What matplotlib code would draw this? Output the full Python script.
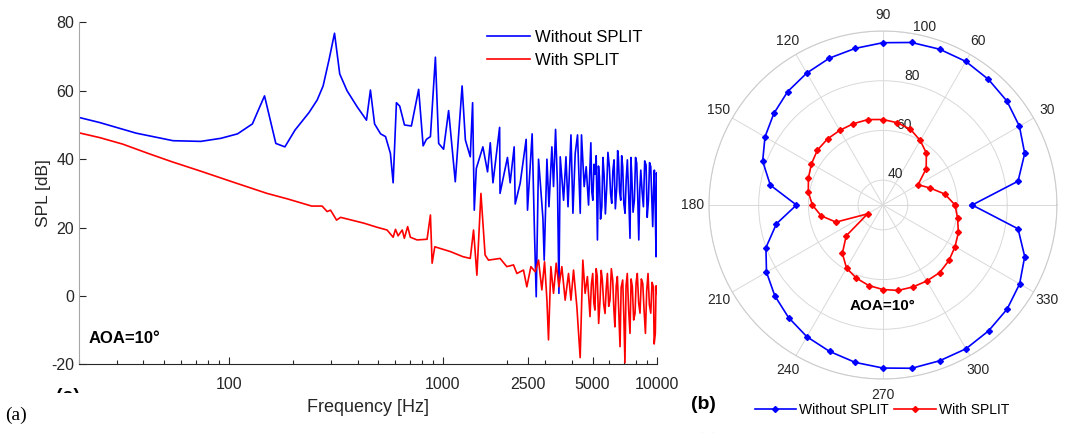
import matplotlib
matplotlib.use("Agg")
import matplotlib.pyplot as plt
import numpy as np
from matplotlib.patches import Rectangle

plt.rcParams['font.family'] = ['Liberation Sans', 'DejaVu Sans']
plt.rcParams['axes.unicode_minus'] = False

# ---- spectrum (a): frequency [Hz] and SPL [dB] ----
blue_f = [20, 25, 37, 55, 74, 92, 110, 129, 147, 166,
          183, 204, 237, 259, 276, 294, 312, 330, 357, 398,
          440, 459, 480, 512, 540, 569, 586, 607, 629, 662,
          713, 771, 809, 838, 875, 923, 956, 1008, 1064, 1143,
          1230, 1274, 1343, 1377, 1402, 1433, 1538, 1617, 1665, 1714,
          1841, 1849, 2003, 2062, 2153, 2177, 2297, 2449, 2485, 2612,
          2679, 2729, 2798, 2933, 2973, 3062, 3129, 3229, 3287, 3360,
          3431, 3483, 3532, 3663, 3757, 3841, 3965, 4050, 4150, 4255,
          4380, 4440, 4570, 4670, 4790, 4910, 4960, 5015, 5080, 5140,
          5200, 5270, 5330, 5385, 5450, 5525, 5590, 5660, 5740, 5825,
          5900, 5990, 6070, 6145, 6220, 6300, 6390, 6490, 6550, 6600,
          6690, 6770, 6840, 6915, 7000, 7090, 7180, 7270, 7380, 7480,
          7550, 7620, 7730, 7840, 7940, 8040, 8130, 8220, 8310, 8400,
          8520, 8640, 8760, 8890, 9000, 9120, 9230, 9350, 9450, 9550,
          9640, 9720, 9810, 9900, 9950, 10000]
blue_db = [52.2, 50.7, 47.6, 45.4, 45.2, 46.1, 47.4, 50.3, 58.5, 44.6,
           43.6, 48.5, 53.6, 57.3, 61.4, 69.0, 76.8, 64.9, 60.0, 55.3,
           51.4, 60.2, 50.3, 47.4, 46.6, 41.7, 33.1, 56.5, 55.5, 50.0,
           49.7, 60.4, 43.9, 45.8, 46.6, 69.8, 44.6, 42.9, 54.2, 33.4,
           61.4, 45.6, 40.7, 56.5, 25.1, 37.3, 43.6, 36.3, 44.8, 33.1,
           49.3, 30.0, 40.5, 33.1, 43.6, 26.9, 33.0, 45.8, 25.1, 47.4,
           18.3, -0.2, 40.0, 22.7, 10.5, 40.0, 26.1, 43.6, 32.0, 48.7,
           32.0, 0.8, 40.7, 28.0, 40.7, 26.1, 47.1, 24.2, 41.7, 47.1,
           24.2, 47.1, 32.0, 37.8, 26.6, 44.8, 30.5, 28.0, 38.5, 35.6,
           41.0, 16.4, 38.0, 34.9, 22.5, 26.1, 40.5, 35.6, 24.0, 32.0,
           42.0, 37.8, 30.0, 27.1, 36.5, 39.8, 25.5, 32.0, 42.5, 40.7,
           30.5, 28.0, 41.0, 37.8, 27.0, 24.2, 34.0, 39.8, 29.0, 16.9,
           40.5, 35.6, 24.5, 28.0, 40.5, 38.8, 29.0, 16.4, 31.0, 36.8,
           30.5, 26.1, 39.5, 38.3, 23.0, 28.0, 39.0, 37.8, 28.5, 20.3,
           31.0, 36.8, 26.0, 11.5, 36.0, 33.0]

red_f = [20, 25, 32, 42, 54, 74, 106, 151, 188, 244,
         273, 288, 299, 319, 333, 364, 428, 493, 549, 586,
         601, 618, 646, 661, 685, 705, 758, 844, 875, 891,
         917, 1084, 1242, 1343, 1391, 1442, 1506, 1575, 1633, 1850,
         1989, 2138, 2217, 2380, 2467, 2577, 2700, 2798, 2899, 2985,
         3062, 3114, 3194, 3287, 3383, 3483, 3594, 3726, 3862, 3964,
         4076, 4224, 4377, 4505, 4617, 4731, 4866, 4940, 5010, 5070,
         5130, 5200, 5260, 5340, 5420, 5490, 5555, 5640, 5720, 5790,
         5865, 5950, 6030, 6120, 6210, 6290, 6360, 6450, 6530, 6620,
         6720, 6800, 6915, 7000, 7085, 7170, 7265, 7370, 7480, 7570,
         7670, 7780, 7895, 7990, 8090, 8210, 8330, 8450, 8580, 8700,
         8830, 8950, 9080, 9210, 9350, 9480, 9620, 9700, 9820, 9900,
         10000]
red_db = [47.7, 46.3, 44.4, 41.7, 39.3, 36.5, 33.2, 30.0, 28.4, 26.3,
          26.3, 24.7, 25.1, 22.2, 23.0, 22.4, 21.3, 20.1, 19.3, 17.2,
          19.5, 17.6, 19.3, 16.9, 20.3, 17.2, 16.4, 16.6, 23.7, 9.6,
          14.4, 13.0, 11.5, 11.0, 19.3, 6.1, 30.0, 12.0, 10.5, 11.0,
          8.6, 9.1, 6.6, 7.6, 2.7, 8.6, 7.1, 10.5, 1.8, 10.0,
          -1.2, -12.8, 8.6, 0.8, 9.6, 2.7, 8.6, -1.2, 6.6, -1.2,
          7.6, -3.1, -18.0, 10.5, 0.8, 5.7, -6.0, 3.5, 6.6, -2.0,
          -4.1, 8.0, 5.7, -8.0, -1.2, 7.5, 4.7, -2.5, -5.1, 2.0,
          6.6, -3.0, -1.2, 8.0, 4.7, -4.0, -9.0, 3.0, 5.7, -3.5,
          -14.8, 2.5, 4.7, -6.0, -19.5, 3.0, 6.6, -4.0, -10.9, 5.0,
          2.7, -7.0, -5.1, 4.0, 6.6, -2.0, -5.0, 5.0, 3.7, -4.0,
          -10.9, 1.5, 6.6, -2.5, -5.0, 4.0, 2.7, -14.0, -10.9, 3.0,
          0.8]

freq_ticks = [100, 1000, 2500, 5000, 10000]
freq_labels = ['100', '1000', '2500', '5000', '10000']
spl_ticks = [-20, 0, 20, 40, 60, 80]

# ---- directivity (b): SPL [dB] every 10 degrees ----
angles_deg = list(range(0, 360, 10))
blue_r = [65.9, 85.2, 90.7, 93.4, 95.1, 96.0, 96.7, 96.7, 96.4, 95.3,
          94.0, 92.9, 91.3, 89.6, 87.3, 84.8, 81.5, 76.0, 64.8, 73.5,
          80.1, 84.1, 86.8, 89.1, 91.2, 92.7, 94.3, 95.6, 96.7, 96.7,
          96.8, 96.1, 95.2, 93.5, 90.7, 85.2]
red_r = [59.0, 55.3, 50.1, 46.3, 52.7, 57.2, 60.0, 62.4, 63.6, 64.4,
         64.9, 64.8, 64.7, 64.7, 64.4, 63.2, 61.9, 60.5, 58.4, 55.2,
         50.1, 37.1, 49.3, 55.4, 59.3, 61.3, 62.9, 64.0, 64.9, 65.1,
         65.3, 65.5, 64.7, 63.5, 62.3, 60.5]
r_ticks = [40, 60, 80, 100]
theta_ticks = list(range(0, 360, 30))

BLUE = '#0000ff'
RED = '#ff0000'
TXT = '#262626'

fig = plt.figure(figsize=(10.69, 4.33), dpi=100)

# ---------------- (a) spectrum ----------------
ax = fig.add_axes([0.0739, 0.1582, 0.5407, 0.7903])
ax.plot(blue_f, blue_db, color=BLUE, lw=1.2, label='Without SPLIT')
ax.plot(red_f, red_db, color=RED, lw=1.2, label='With SPLIT')
ax.set_xscale('log')
ax.set_xlim(20, 10000)
ax.set_ylim(-20, 80)
ax.set_xticks(freq_ticks)
ax.set_xticklabels(freq_labels)
ax.set_yticks(spl_ticks)
ax.tick_params(axis='both', which='both', direction='in', colors=TXT,
               labelsize=11.5)
ax.tick_params(axis='both', which='major', length=5, width=0.8)
ax.tick_params(axis='x', which='minor', length=3, width=0.8)
ax.tick_params(axis='x', pad=9)
for s in ['top', 'right']:
    ax.spines[s].set_visible(False)
ax.spines['left'].set_color('#a6a6a6')
ax.spines['bottom'].set_color(TXT)
ax.set_xlabel('Frequency [Hz]', fontsize=13, color=TXT, labelpad=5)
ax.set_ylabel('SPL [dB]', fontsize=12.5, color=TXT, labelpad=0)
ax.legend(loc='upper right', bbox_to_anchor=(0.615, 0.965),
          bbox_transform=fig.transFigure, frameon=False, fontsize=12,
          handlelength=2.6, handletextpad=0.3, labelspacing=0.45)
ax.text(0.016, 0.075, 'AOA=10°', transform=ax.transAxes, fontsize=12,
        fontweight='bold', ha='left', va='center')

# ---------------- (b) directivity ----------------
pax = fig.add_axes([0.6632, 0.1247, 0.3255, 0.8037], projection='polar')
th = np.deg2rad(angles_deg + [angles_deg[0]])
pax.plot(th, blue_r + [blue_r[0]], color=BLUE, lw=1.2, marker='D',
         ms=3, label='Without SPLIT')
pax.plot(th, red_r + [red_r[0]], color=RED, lw=1.2, marker='D',
         ms=3, label='With SPLIT')
pax.set_rlim(30, 100)
pax.set_rticks(r_ticks)
pax.set_rlabel_position(80)
pax.set_thetagrids(theta_ticks, [str(t) for t in theta_ticks])
pax.grid(color='#d9d9d9', lw=0.7)
pax.spines['polar'].set_color('#cccccc')
pax.spines['polar'].set_linewidth(0.8)
pax.tick_params(axis='x', pad=1, labelsize=10, colors=TXT)
pax.tick_params(axis='y', labelsize=10, colors=TXT)
pax.text(np.deg2rad(270), 70.5, 'AOA=10°', fontsize=11, fontweight='bold',
         ha='center', va='center')
fig.legend(handles=pax.get_lines(), loc='center',
           bbox_to_anchor=(0.825, 0.053), ncol=2, frameon=False,
           fontsize=10, handlelength=3, handletextpad=0.2,
           columnspacing=0.4)

# panel labels
fig.text(0.005, 0.04, '(a)', family='Liberation Serif', fontsize=14,
         ha='left', va='center')
fig.text(0.646, 0.065, '(b)', fontsize=14, fontweight='bold',
         ha='left', va='center')
fig.text(0.651, -0.02, '(b)', family='Liberation Serif', fontsize=14,
         ha='left', va='center')
fig.text(0.052, 0.085, '(a)', fontsize=14, fontweight='bold',
         ha='left', va='center', zorder=3)
fig.add_artist(Rectangle((0.045, 0.0), 0.05, 0.093, transform=fig.transFigure,
                         facecolor='white', edgecolor='none', zorder=4))

fig.savefig('out.png', dpi=100)
